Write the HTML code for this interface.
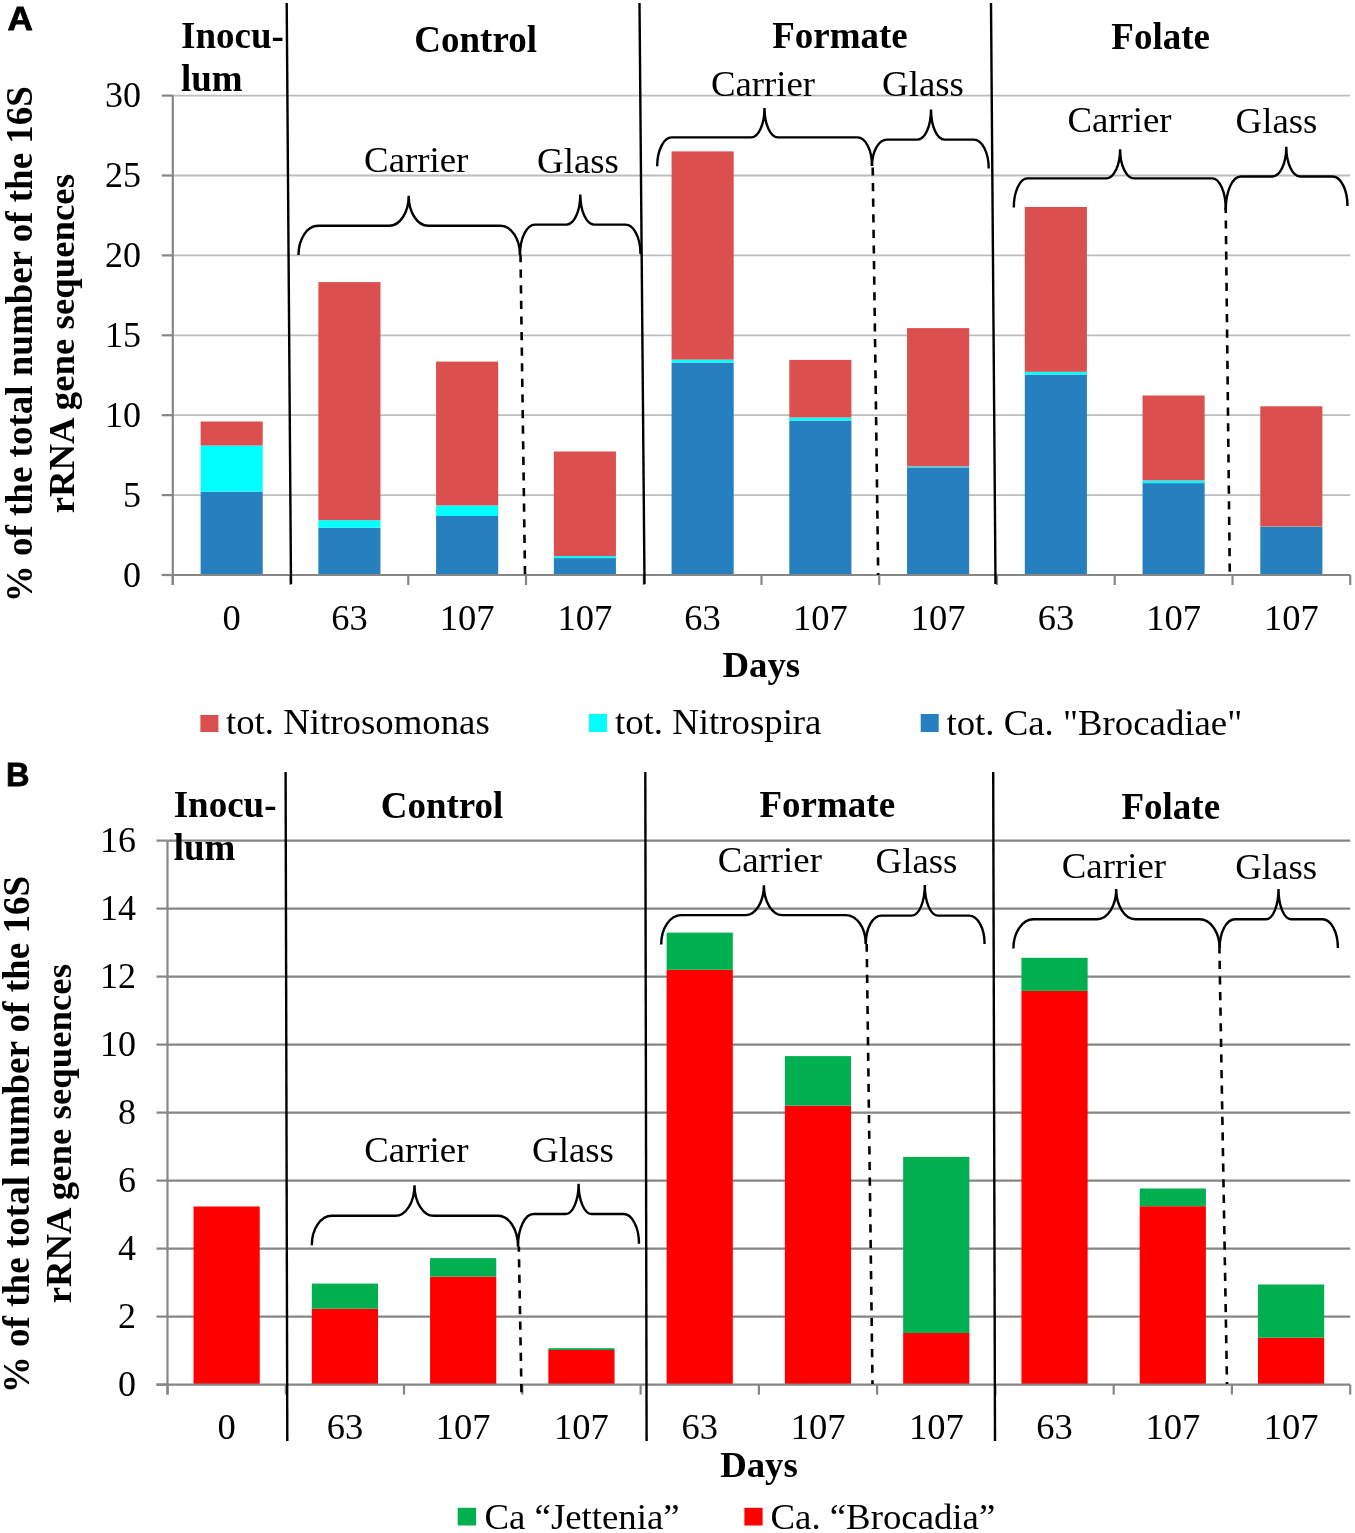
<!DOCTYPE html>
<html><head><meta charset="utf-8"><style>
html,body{margin:0;padding:0;background:#fff;}
svg{display:block;will-change:transform;}
text{font-family:"Liberation Serif",serif;fill:#000;}
.b{font-weight:bold;}
.br{fill:none;stroke:#000;stroke-width:2.4;}
.sep{stroke:#000;stroke-width:2.4;}
.dash{stroke:#000;stroke-width:2.6;stroke-dasharray:8.2 7.4;}
.lab{font-family:"Liberation Sans",sans-serif;font-weight:bold;}
</style></head><body>
<svg width="1355" height="1533" viewBox="0 0 1355 1533">

<line x1="172.8" y1="495.1" x2="1350.2" y2="495.1" stroke="#BDBDBD" stroke-width="1.8"/>
<line x1="172.8" y1="415.2" x2="1350.2" y2="415.2" stroke="#BDBDBD" stroke-width="1.8"/>
<line x1="172.8" y1="335.3" x2="1350.2" y2="335.3" stroke="#BDBDBD" stroke-width="1.8"/>
<line x1="172.8" y1="255.4" x2="1350.2" y2="255.4" stroke="#BDBDBD" stroke-width="1.8"/>
<line x1="172.8" y1="175.5" x2="1350.2" y2="175.5" stroke="#BDBDBD" stroke-width="1.8"/>
<line x1="172.8" y1="95.6" x2="1350.2" y2="95.6" stroke="#BDBDBD" stroke-width="1.8"/>
<rect x="200.62" y="491.60" width="62.10" height="83.40" fill="#2680C0"/>
<rect x="200.62" y="445.50" width="62.10" height="46.10" fill="#00FFFF"/>
<rect x="200.62" y="421.50" width="62.10" height="24.00" fill="#DB504E"/>
<rect x="318.36" y="527.80" width="62.10" height="47.20" fill="#2680C0"/>
<rect x="318.36" y="520.20" width="62.10" height="7.60" fill="#00FFFF"/>
<rect x="318.36" y="282.10" width="62.10" height="238.10" fill="#DB504E"/>
<rect x="436.10" y="516.00" width="62.10" height="59.00" fill="#2680C0"/>
<rect x="436.10" y="505.40" width="62.10" height="10.60" fill="#00FFFF"/>
<rect x="436.10" y="361.60" width="62.10" height="143.80" fill="#DB504E"/>
<rect x="553.84" y="558.10" width="62.10" height="16.90" fill="#2680C0"/>
<rect x="553.84" y="556.10" width="62.10" height="2.00" fill="#00FFFF"/>
<rect x="553.84" y="451.50" width="62.10" height="104.60" fill="#DB504E"/>
<rect x="671.58" y="362.60" width="62.10" height="212.40" fill="#2680C0"/>
<rect x="671.58" y="359.60" width="62.10" height="3.00" fill="#00FFFF"/>
<rect x="671.58" y="151.40" width="62.10" height="208.20" fill="#DB504E"/>
<rect x="789.32" y="420.50" width="62.10" height="154.50" fill="#2680C0"/>
<rect x="789.32" y="417.50" width="62.10" height="3.00" fill="#00FFFF"/>
<rect x="789.32" y="359.90" width="62.10" height="57.60" fill="#DB504E"/>
<rect x="907.06" y="467.40" width="62.10" height="107.60" fill="#2680C0"/>
<rect x="907.06" y="466.40" width="62.10" height="1.00" fill="#00FFFF"/>
<rect x="907.06" y="328.10" width="62.10" height="138.30" fill="#DB504E"/>
<rect x="1024.80" y="374.50" width="62.10" height="200.50" fill="#2680C0"/>
<rect x="1024.80" y="371.80" width="62.10" height="2.70" fill="#00FFFF"/>
<rect x="1024.80" y="207.00" width="62.10" height="164.80" fill="#DB504E"/>
<rect x="1142.54" y="483.10" width="62.10" height="91.90" fill="#2680C0"/>
<rect x="1142.54" y="480.40" width="62.10" height="2.70" fill="#00FFFF"/>
<rect x="1142.54" y="395.50" width="62.10" height="84.90" fill="#DB504E"/>
<rect x="1260.28" y="527.00" width="62.10" height="48.00" fill="#2680C0"/>
<rect x="1260.28" y="526.60" width="62.10" height="0.40" fill="#00FFFF"/>
<rect x="1260.28" y="406.30" width="62.10" height="120.30" fill="#DB504E"/>
<line x1="172.8" y1="95.6" x2="172.8" y2="585.0" stroke="#868686" stroke-width="2.2"/>
<line x1="161.8" y1="575.0" x2="1350.2" y2="575.0" stroke="#868686" stroke-width="2.2"/>
<line x1="161.8" y1="575.0" x2="172.8" y2="575.0" stroke="#868686" stroke-width="2.2"/>
<line x1="161.8" y1="495.1" x2="172.8" y2="495.1" stroke="#868686" stroke-width="2.2"/>
<line x1="161.8" y1="415.2" x2="172.8" y2="415.2" stroke="#868686" stroke-width="2.2"/>
<line x1="161.8" y1="335.3" x2="172.8" y2="335.3" stroke="#868686" stroke-width="2.2"/>
<line x1="161.8" y1="255.4" x2="172.8" y2="255.4" stroke="#868686" stroke-width="2.2"/>
<line x1="161.8" y1="175.5" x2="172.8" y2="175.5" stroke="#868686" stroke-width="2.2"/>
<line x1="161.8" y1="95.6" x2="172.8" y2="95.6" stroke="#868686" stroke-width="2.2"/>
<line x1="172.8" y1="575.0" x2="172.8" y2="585.0" stroke="#868686" stroke-width="2.2"/>
<line x1="290.5" y1="575.0" x2="290.5" y2="585.0" stroke="#868686" stroke-width="2.2"/>
<line x1="408.3" y1="575.0" x2="408.3" y2="585.0" stroke="#868686" stroke-width="2.2"/>
<line x1="526.0" y1="575.0" x2="526.0" y2="585.0" stroke="#868686" stroke-width="2.2"/>
<line x1="643.8" y1="575.0" x2="643.8" y2="585.0" stroke="#868686" stroke-width="2.2"/>
<line x1="761.5" y1="575.0" x2="761.5" y2="585.0" stroke="#868686" stroke-width="2.2"/>
<line x1="879.2" y1="575.0" x2="879.2" y2="585.0" stroke="#868686" stroke-width="2.2"/>
<line x1="997.0" y1="575.0" x2="997.0" y2="585.0" stroke="#868686" stroke-width="2.2"/>
<line x1="1114.7" y1="575.0" x2="1114.7" y2="585.0" stroke="#868686" stroke-width="2.2"/>
<line x1="1232.5" y1="575.0" x2="1232.5" y2="585.0" stroke="#868686" stroke-width="2.2"/>
<line x1="1350.2" y1="575.0" x2="1350.2" y2="585.0" stroke="#868686" stroke-width="2.2"/>
<text x="141.0" y="586.5" font-size="36" text-anchor="end">0</text>
<text x="141.0" y="506.6" font-size="36" text-anchor="end">5</text>
<text x="141.0" y="426.7" font-size="36" text-anchor="end">10</text>
<text x="141.0" y="346.8" font-size="36" text-anchor="end">15</text>
<text x="141.0" y="266.9" font-size="36" text-anchor="end">20</text>
<text x="141.0" y="187.0" font-size="36" text-anchor="end">25</text>
<text x="141.0" y="107.1" font-size="36" text-anchor="end">30</text>
<text x="231.7" y="630.0" font-size="36.5" text-anchor="middle">0</text>
<text x="349.4" y="630.0" font-size="36.5" text-anchor="middle">63</text>
<text x="467.2" y="630.0" font-size="36.5" text-anchor="middle">107</text>
<text x="584.9" y="630.0" font-size="36.5" text-anchor="middle">107</text>
<text x="702.6" y="630.0" font-size="36.5" text-anchor="middle">63</text>
<text x="820.4" y="630.0" font-size="36.5" text-anchor="middle">107</text>
<text x="938.1" y="630.0" font-size="36.5" text-anchor="middle">107</text>
<text x="1055.9" y="630.0" font-size="36.5" text-anchor="middle">63</text>
<text x="1173.6" y="630.0" font-size="36.5" text-anchor="middle">107</text>
<text x="1291.3" y="630.0" font-size="36.5" text-anchor="middle">107</text>
<text x="761.3" y="677.2" font-size="36.8" class="b" text-anchor="middle">Days</text>
<line x1="286.7" y1="3" x2="291" y2="584" class="sep"/>
<line x1="639.5" y1="3" x2="644.5" y2="584" class="sep"/>
<line x1="991" y1="3" x2="995.5" y2="584" class="sep"/>
<line x1="520.5" y1="255" x2="525" y2="575" class="dash" stroke-dashoffset="1"/>
<line x1="872.7" y1="166" x2="878.2" y2="575" class="dash" stroke-dashoffset="14.2"/>
<line x1="1225.7" y1="208" x2="1229.8" y2="575" class="dash" stroke-dashoffset="3.2"/>
<path d="M298.5,255.0 C298.5,238.9 307.2,225.8 318.0,225.8 L389.2,225.8 C400.0,225.8 408.7,212.3 408.7,195.7 C408.7,212.3 417.4,225.8 428.2,225.8 L500.5,225.8 C511.3,225.8 520.0,238.9 520.0,255.0" class="br"/>
<path d="M520.0,255.0 C520.0,238.2 526.7,224.6 535.0,224.6 L566.5,224.6 C574.1,224.6 580.3,211.1 580.3,194.5 C580.3,211.1 586.5,224.6 594.1,224.6 L625.5,224.6 C633.8,224.6 640.5,237.8 640.5,254.0" class="br"/>
<path d="M657.2,166.3 C657.2,150.3 663.7,137.4 671.7,137.4 L751.2,137.4 C758.5,137.4 764.5,124.2 764.5,107.9 C764.5,124.2 770.5,137.4 777.8,137.4 L857.5,137.4 C865.5,137.4 872.0,150.2 872.0,165.9" class="br"/>
<path d="M872.0,166.0 C872.0,151.4 878.7,139.6 887.0,139.6 L917.5,139.6 C925.0,139.6 931.0,126.1 931.0,109.4 C931.0,126.1 937.0,139.6 944.5,139.6 L973.7,139.6 C982.0,139.6 988.7,152.5 988.7,168.4" class="br"/>
<path d="M1013.8,207.6 C1013.8,191.5 1019.9,178.4 1027.5,178.4 L1106.3,178.4 C1113.9,178.4 1120.1,165.3 1120.1,149.2 C1120.1,165.3 1126.3,178.4 1133.9,178.4 L1212.1,178.4 C1219.7,178.4 1225.8,192.3 1225.8,209.4" class="br"/>
<path d="M1225.8,209.4 C1225.8,191.2 1232.5,176.5 1240.8,176.5 L1272.5,176.5 C1280.1,176.5 1286.3,163.2 1286.3,146.8 C1286.3,163.2 1292.5,176.5 1300.1,176.5 L1332.5,176.5 C1340.8,176.5 1347.5,189.7 1347.5,206.0" class="br"/>
<text x="181.0" y="47.6" font-size="37" class="b" text-anchor="start">Inocu-</text>
<text x="181.0" y="90.8" font-size="37" class="b" text-anchor="start">lum</text>
<text x="475.6" y="52.0" font-size="37" class="b" text-anchor="middle">Control</text>
<text x="840.0" y="48.4" font-size="37" class="b" text-anchor="middle">Formate</text>
<text x="1160.6" y="48.5" font-size="37" class="b" text-anchor="middle">Folate</text>
<text x="416.2" y="171.5" font-size="36.8" text-anchor="middle">Carrier</text>
<text x="578.0" y="173.1" font-size="36.8" text-anchor="middle">Glass</text>
<text x="763.0" y="95.6" font-size="36.8" text-anchor="middle">Carrier</text>
<text x="923.0" y="95.6" font-size="36.8" text-anchor="middle">Glass</text>
<text x="1119.5" y="132.0" font-size="36.8" text-anchor="middle">Carrier</text>
<text x="1276.5" y="133.3" font-size="36.8" text-anchor="middle">Glass</text>
<rect x="200.4" y="715" width="18" height="17" fill="#DB504E"/>
<text x="226" y="734.3" font-size="36.8">tot. Nitrosomonas</text>
<rect x="589" y="714" width="18" height="18" fill="#00FFFF"/>
<text x="615" y="734" font-size="36.8">tot. Nitrospira</text>
<rect x="920.7" y="714" width="18" height="18" fill="#2680C0"/>
<text x="946.5" y="734.5" font-size="36.8">tot. Ca. "Brocadiae"</text>
<text transform="translate(32,344.2) rotate(-90)" x="0" y="0" font-size="37.0" class="b" text-anchor="middle">% of the total number of the 16S</text>
<text transform="translate(74,343.7) rotate(-90)" x="0" y="0" font-size="36.8" class="b" text-anchor="middle">rRNA gene sequences</text>
<text transform="translate(7.6,30.4) scale(1.08,1)" x="0" y="0" font-size="32.5" class="lab" stroke="#000" stroke-width="0.8">A</text>
<line x1="167.5" y1="1316.6" x2="1350.2" y2="1316.6" stroke="#868686" stroke-width="2.2"/>
<line x1="167.5" y1="1248.6" x2="1350.2" y2="1248.6" stroke="#868686" stroke-width="2.2"/>
<line x1="167.5" y1="1180.6" x2="1350.2" y2="1180.6" stroke="#868686" stroke-width="2.2"/>
<line x1="167.5" y1="1112.6" x2="1350.2" y2="1112.6" stroke="#868686" stroke-width="2.2"/>
<line x1="167.5" y1="1044.6" x2="1350.2" y2="1044.6" stroke="#868686" stroke-width="2.2"/>
<line x1="167.5" y1="976.6" x2="1350.2" y2="976.6" stroke="#868686" stroke-width="2.2"/>
<line x1="167.5" y1="908.6" x2="1350.2" y2="908.6" stroke="#868686" stroke-width="2.2"/>
<line x1="167.5" y1="840.6" x2="1350.2" y2="840.6" stroke="#868686" stroke-width="2.2"/>
<rect x="193.53" y="1206.50" width="66.20" height="178.10" fill="#FF0000"/>
<rect x="311.81" y="1308.70" width="66.20" height="75.90" fill="#FF0000"/>
<rect x="311.81" y="1283.60" width="66.20" height="25.10" fill="#00B050"/>
<rect x="430.07" y="1276.60" width="66.20" height="108.00" fill="#FF0000"/>
<rect x="430.07" y="1258.10" width="66.20" height="18.50" fill="#00B050"/>
<rect x="548.35" y="1350.00" width="66.20" height="34.60" fill="#FF0000"/>
<rect x="548.35" y="1348.20" width="66.20" height="1.80" fill="#00B050"/>
<rect x="666.62" y="969.80" width="66.20" height="414.80" fill="#FF0000"/>
<rect x="666.62" y="932.60" width="66.20" height="37.20" fill="#00B050"/>
<rect x="784.88" y="1105.60" width="66.20" height="279.00" fill="#FF0000"/>
<rect x="784.88" y="1056.10" width="66.20" height="49.50" fill="#00B050"/>
<rect x="903.16" y="1333.00" width="66.20" height="51.60" fill="#FF0000"/>
<rect x="903.16" y="1156.90" width="66.20" height="176.10" fill="#00B050"/>
<rect x="1021.43" y="990.90" width="66.20" height="393.70" fill="#FF0000"/>
<rect x="1021.43" y="957.80" width="66.20" height="33.10" fill="#00B050"/>
<rect x="1139.70" y="1206.20" width="66.20" height="178.40" fill="#FF0000"/>
<rect x="1139.70" y="1188.50" width="66.20" height="17.70" fill="#00B050"/>
<rect x="1257.97" y="1337.70" width="66.20" height="46.90" fill="#FF0000"/>
<rect x="1257.97" y="1284.50" width="66.20" height="53.20" fill="#00B050"/>
<line x1="167.5" y1="840.6" x2="167.5" y2="1394.6" stroke="#868686" stroke-width="2.2"/>
<line x1="156.5" y1="1384.6" x2="1350.2" y2="1384.6" stroke="#868686" stroke-width="2.2"/>
<line x1="156.5" y1="1384.6" x2="167.5" y2="1384.6" stroke="#868686" stroke-width="2.2"/>
<line x1="156.5" y1="1316.6" x2="167.5" y2="1316.6" stroke="#868686" stroke-width="2.2"/>
<line x1="156.5" y1="1248.6" x2="167.5" y2="1248.6" stroke="#868686" stroke-width="2.2"/>
<line x1="156.5" y1="1180.6" x2="167.5" y2="1180.6" stroke="#868686" stroke-width="2.2"/>
<line x1="156.5" y1="1112.6" x2="167.5" y2="1112.6" stroke="#868686" stroke-width="2.2"/>
<line x1="156.5" y1="1044.6" x2="167.5" y2="1044.6" stroke="#868686" stroke-width="2.2"/>
<line x1="156.5" y1="976.6" x2="167.5" y2="976.6" stroke="#868686" stroke-width="2.2"/>
<line x1="156.5" y1="908.6" x2="167.5" y2="908.6" stroke="#868686" stroke-width="2.2"/>
<line x1="156.5" y1="840.6" x2="167.5" y2="840.6" stroke="#868686" stroke-width="2.2"/>
<line x1="167.5" y1="1384.6" x2="167.5" y2="1394.6" stroke="#868686" stroke-width="2.2"/>
<line x1="285.8" y1="1384.6" x2="285.8" y2="1394.6" stroke="#868686" stroke-width="2.2"/>
<line x1="404.0" y1="1384.6" x2="404.0" y2="1394.6" stroke="#868686" stroke-width="2.2"/>
<line x1="522.3" y1="1384.6" x2="522.3" y2="1394.6" stroke="#868686" stroke-width="2.2"/>
<line x1="640.6" y1="1384.6" x2="640.6" y2="1394.6" stroke="#868686" stroke-width="2.2"/>
<line x1="758.9" y1="1384.6" x2="758.9" y2="1394.6" stroke="#868686" stroke-width="2.2"/>
<line x1="877.1" y1="1384.6" x2="877.1" y2="1394.6" stroke="#868686" stroke-width="2.2"/>
<line x1="995.4" y1="1384.6" x2="995.4" y2="1394.6" stroke="#868686" stroke-width="2.2"/>
<line x1="1113.7" y1="1384.6" x2="1113.7" y2="1394.6" stroke="#868686" stroke-width="2.2"/>
<line x1="1231.9" y1="1384.6" x2="1231.9" y2="1394.6" stroke="#868686" stroke-width="2.2"/>
<line x1="1350.2" y1="1384.6" x2="1350.2" y2="1394.6" stroke="#868686" stroke-width="2.2"/>
<text x="136.0" y="1395.8" font-size="36" text-anchor="end">0</text>
<text x="136.0" y="1327.8" font-size="36" text-anchor="end">2</text>
<text x="136.0" y="1259.8" font-size="36" text-anchor="end">4</text>
<text x="136.0" y="1191.8" font-size="36" text-anchor="end">6</text>
<text x="136.0" y="1123.8" font-size="36" text-anchor="end">8</text>
<text x="136.0" y="1055.8" font-size="36" text-anchor="end">10</text>
<text x="136.0" y="987.8" font-size="36" text-anchor="end">12</text>
<text x="136.0" y="919.8" font-size="36" text-anchor="end">14</text>
<text x="136.0" y="851.8" font-size="36" text-anchor="end">16</text>
<text x="226.6" y="1438.6" font-size="36.5" text-anchor="middle">0</text>
<text x="344.9" y="1438.6" font-size="36.5" text-anchor="middle">63</text>
<text x="463.2" y="1438.6" font-size="36.5" text-anchor="middle">107</text>
<text x="581.4" y="1438.6" font-size="36.5" text-anchor="middle">107</text>
<text x="699.7" y="1438.6" font-size="36.5" text-anchor="middle">63</text>
<text x="818.0" y="1438.6" font-size="36.5" text-anchor="middle">107</text>
<text x="936.3" y="1438.6" font-size="36.5" text-anchor="middle">107</text>
<text x="1054.5" y="1438.6" font-size="36.5" text-anchor="middle">63</text>
<text x="1172.8" y="1438.6" font-size="36.5" text-anchor="middle">107</text>
<text x="1291.1" y="1438.6" font-size="36.5" text-anchor="middle">107</text>
<text x="759.0" y="1476.6" font-size="36.8" class="b" text-anchor="middle">Days</text>
<line x1="285.6" y1="772" x2="287.3" y2="1441" class="sep"/>
<line x1="645.3" y1="772" x2="646.6" y2="1441" class="sep"/>
<line x1="993.2" y1="772" x2="995" y2="1441" class="sep"/>
<line x1="518.8" y1="1246.5" x2="521.5" y2="1393" class="dash" stroke-dashoffset="2.9"/>
<line x1="866.7" y1="944" x2="872.5" y2="1384" class="dash" stroke-dashoffset="0.5"/>
<line x1="1219.4" y1="948.3" x2="1227" y2="1384" class="dash" stroke-dashoffset="3.1"/>
<path d="M311.8,1245.2 C311.8,1229.0 320.8,1215.8 331.8,1215.8 L395.2,1215.8 C405.9,1215.8 414.5,1202.1 414.5,1185.2 C414.5,1202.1 423.1,1215.8 433.8,1215.8 L498.0,1215.8 C509.0,1215.8 518.0,1229.5 518.0,1246.5" class="br"/>
<path d="M518.0,1246.5 C518.0,1228.6 524.9,1214.0 533.5,1214.0 L565.6,1214.0 C572.8,1214.0 578.6,1200.4 578.6,1183.7 C578.6,1200.4 584.4,1214.0 591.6,1214.0 L623.5,1214.0 C632.1,1214.0 639.0,1227.3 639.0,1243.8" class="br"/>
<path d="M661.2,944.4 C661.2,928.2 670.2,915.1 681.2,915.1 L745.6,915.1 C755.7,915.1 763.9,901.8 763.9,885.3 C763.9,901.8 772.1,915.1 782.2,915.1 L845.8,915.1 C856.8,915.1 865.8,928.0 865.8,944.0" class="br"/>
<path d="M865.8,944.0 C865.8,928.3 872.7,915.6 881.3,915.6 L911.8,915.6 C919.0,915.6 924.8,901.9 924.8,885.0 C924.8,901.9 930.6,915.6 937.8,915.6 L969.1,915.6 C977.7,915.6 984.6,928.3 984.6,944.0" class="br"/>
<path d="M1013.4,948.6 C1013.4,932.4 1022.4,919.2 1033.4,919.2 L1097.2,919.2 C1107.7,919.2 1116.2,905.7 1116.2,889.0 C1116.2,905.7 1124.7,919.2 1135.2,919.2 L1199.6,919.2 C1210.6,919.2 1219.6,932.2 1219.6,948.3" class="br"/>
<path d="M1219.6,948.3 C1219.6,932.2 1226.5,919.2 1235.0,919.2 L1266.0,919.2 C1272.9,919.2 1278.5,905.7 1278.5,889.0 C1278.5,905.7 1284.1,919.2 1291.0,919.2 L1322.5,919.2 C1331.0,919.2 1337.9,932.1 1337.9,948.0" class="br"/>
<text x="173.7" y="817.3" font-size="37" class="b" text-anchor="start">Inocu-</text>
<text x="173.7" y="859.8" font-size="37" class="b" text-anchor="start">lum</text>
<text x="442.0" y="817.7" font-size="37" class="b" text-anchor="middle">Control</text>
<text x="827.3" y="817.3" font-size="37" class="b" text-anchor="middle">Formate</text>
<text x="1170.8" y="818.5" font-size="37" class="b" text-anchor="middle">Folate</text>
<text x="416.3" y="1161.9" font-size="36.8" text-anchor="middle">Carrier</text>
<text x="573.0" y="1161.9" font-size="36.8" text-anchor="middle">Glass</text>
<text x="769.8" y="871.5" font-size="36.8" text-anchor="middle">Carrier</text>
<text x="916.5" y="873.1" font-size="36.8" text-anchor="middle">Glass</text>
<text x="1113.9" y="877.8" font-size="36.8" text-anchor="middle">Carrier</text>
<text x="1276.2" y="879.1" font-size="36.8" text-anchor="middle">Glass</text>
<rect x="457.7" y="1507.8" width="18.4" height="17.7" fill="#00B050"/>
<text x="484.5" y="1529.3" font-size="36.8">Ca “Jettenia”</text>
<rect x="744.4" y="1507.8" width="18.2" height="17.7" fill="#FF0000"/>
<text x="770.5" y="1528.6" font-size="36.8">Ca. “Brocadia”</text>
<text transform="translate(28.5,1134.6) rotate(-90)" x="0" y="0" font-size="37.1" class="b" text-anchor="middle">% of the total number of the 16S</text>
<text transform="translate(71,1133.7) rotate(-90)" x="0" y="0" font-size="36.8" class="b" text-anchor="middle">rRNA gene sequences</text>
<text transform="translate(6,786.1) scale(1.0,1)" x="0" y="0" font-size="32.5" class="lab" stroke="#000" stroke-width="0.8">B</text>
</svg></body></html>
